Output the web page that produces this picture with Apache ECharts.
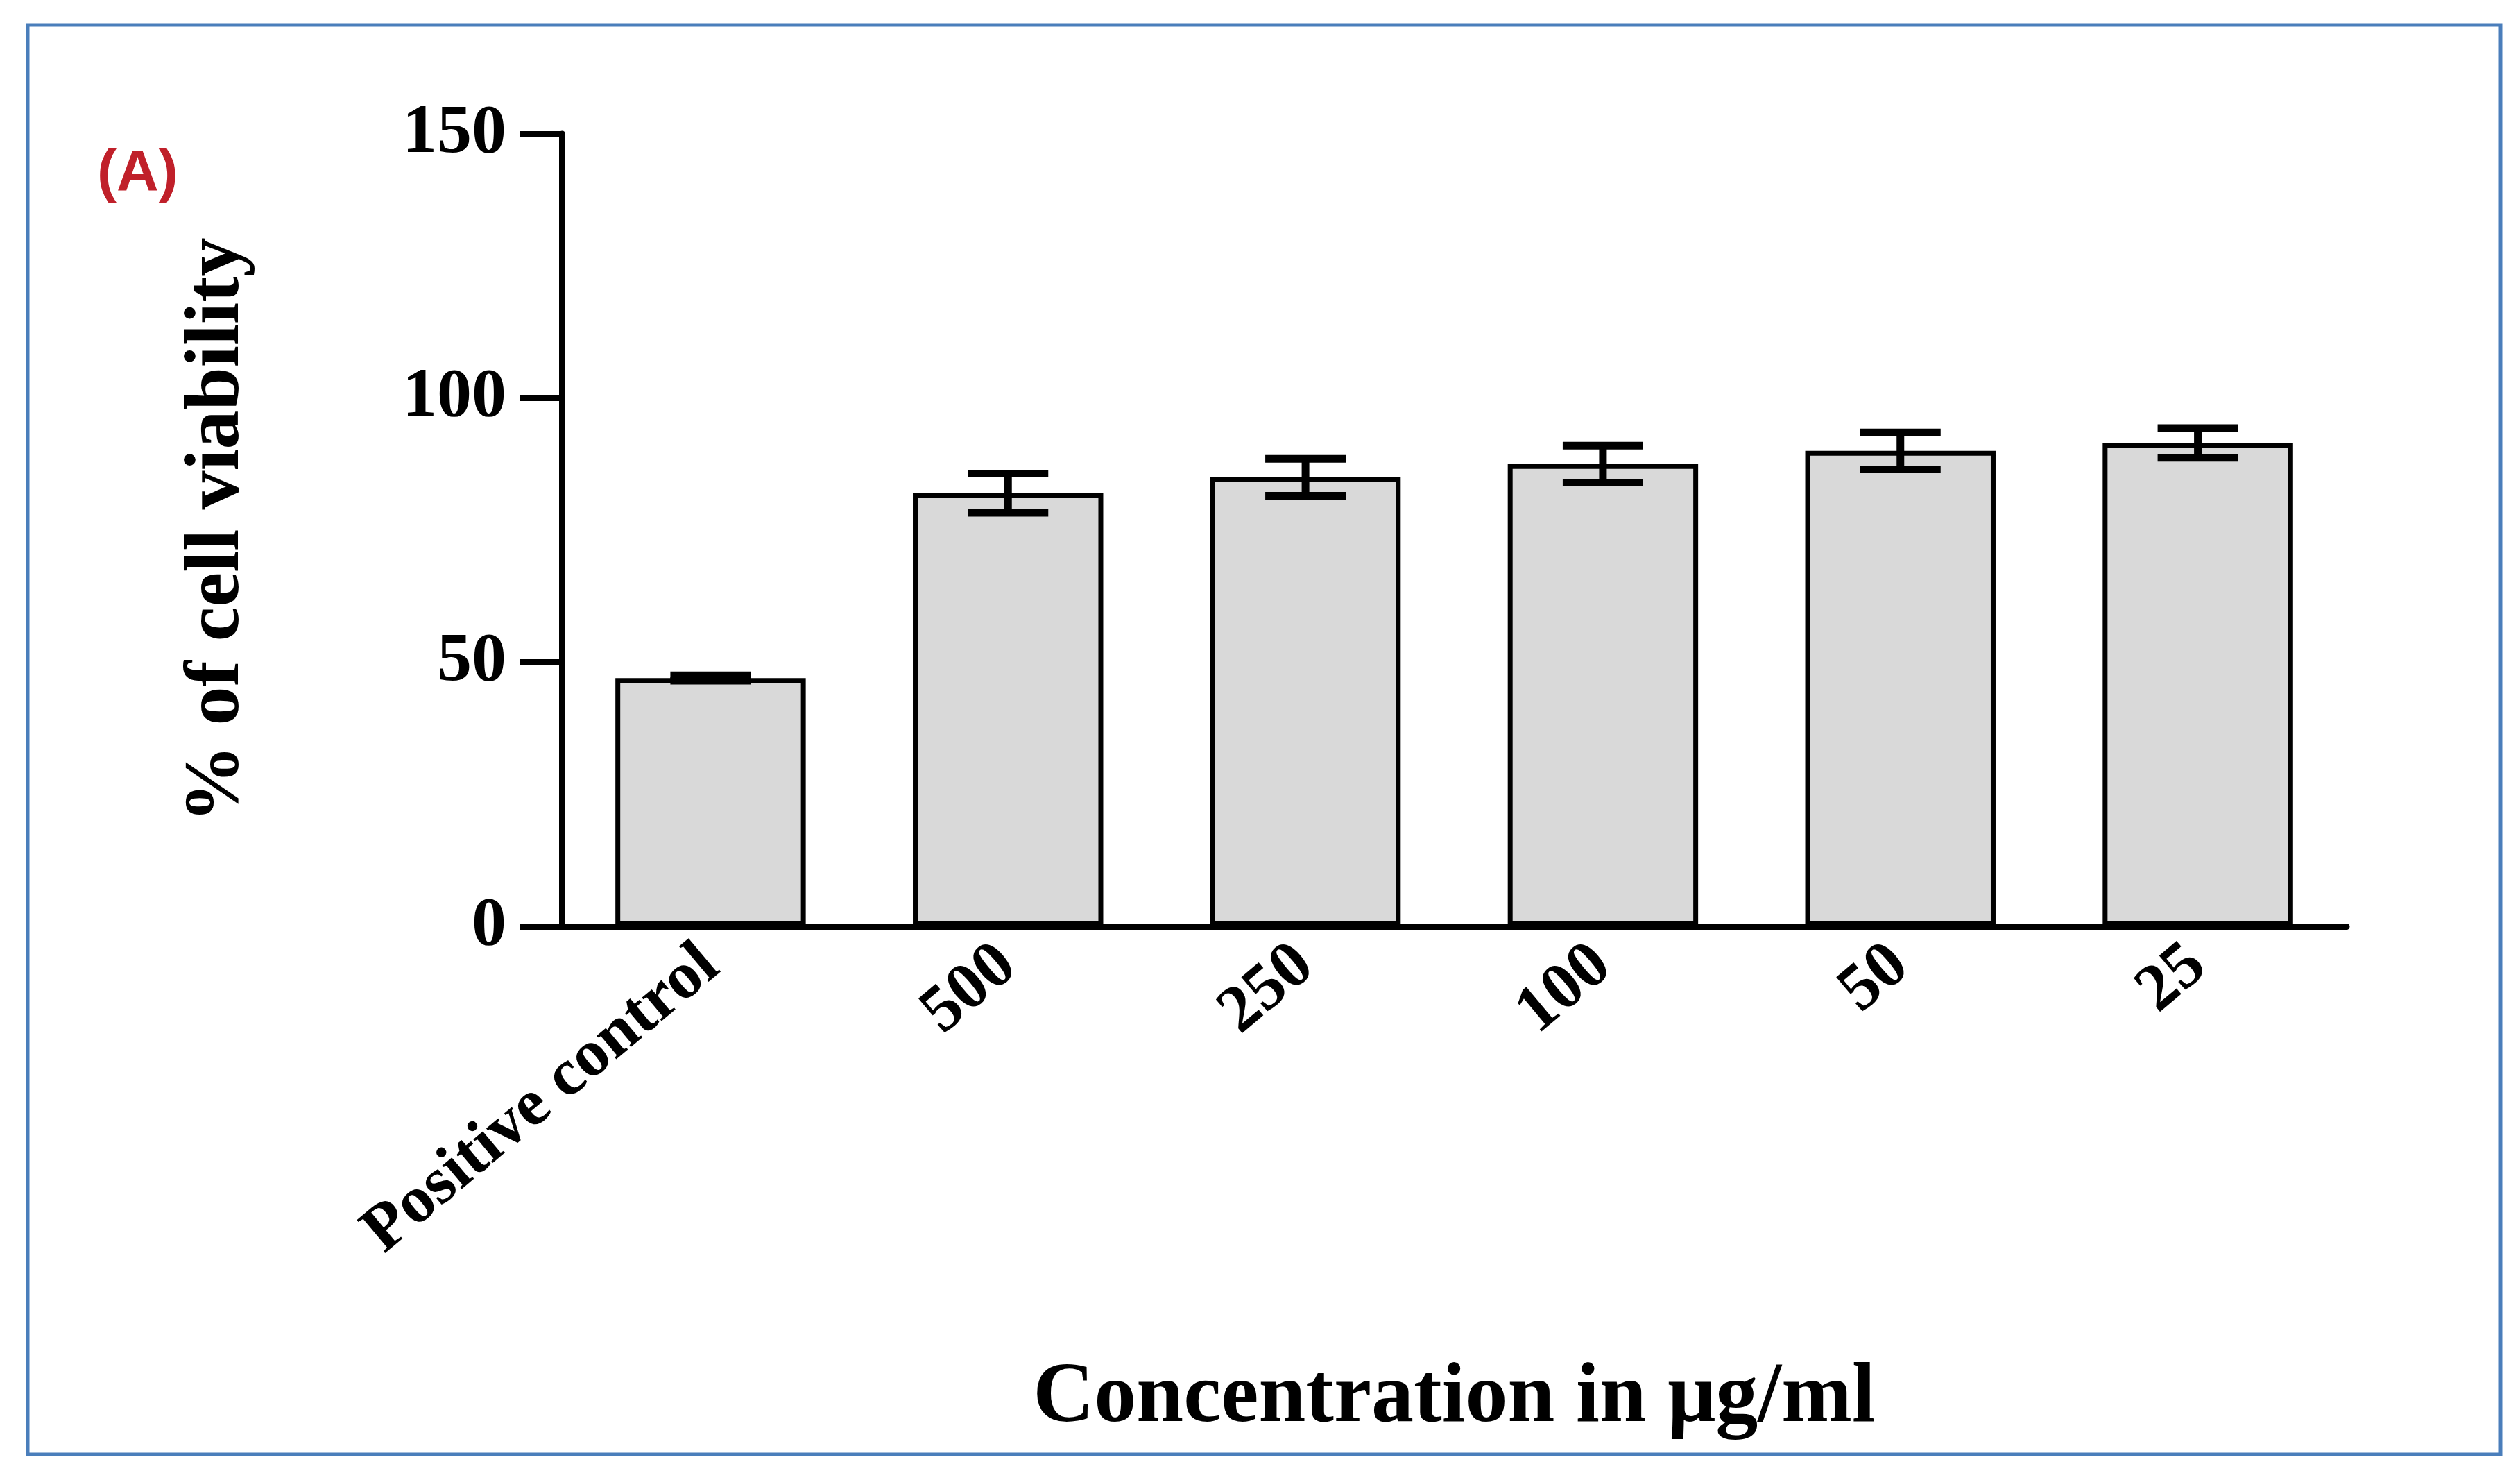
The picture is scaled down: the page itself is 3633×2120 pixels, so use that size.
<!DOCTYPE html>
<html><head><meta charset="utf-8">
<script src="https://cdn.jsdelivr.net/npm/echarts@6/dist/echarts.min.js"></script>
<style>html,body{margin:0;padding:0;background:#fff}#c{width:3633px;height:2120px}</style>
</head><body><div id="c"></div>
<script>
const categories = ["Positive control","500","250","100","50","25"];
const values = [47, 82, 85, 87.5, 90, 91.5];
const errors = [0.5, 3.7, 3.5, 3.5, 3.5, 2.8];
const yTicks = [0, 50, 100, 150];

const chart = echarts.init(document.getElementById('c'));
const serif = '"Liberation Serif", "DejaVu Serif", serif';
chart.setOption({
  animation: false,
  graphic: [
    {type:'rect', shape:{x:40,y:36,width:3565,height:2060}, style:{fill:'none', stroke:'#4a7ebb', lineWidth:5}},
    {type:'text', left:140, top:210, style:{text:'(A)', fill:'#c0202a', font:'bold 84px "Liberation Sans", Arial, sans-serif'}}
  ],
  grid: {left:810, right:250, top:193, bottom:785, containLabel:false},
  xAxis: {
    type:'category', data:categories, boundaryGap:true,
    axisLine:{lineStyle:{color:'#000', width:9}},
    axisTick:{alignWithLabel:true, length:35, lineStyle:{color:'#000', width:9}},
    axisLabel:{rotate:40, color:'#000', fontFamily:serif, fontWeight:'bold', fontSize:96, margin:45},
    name:'Concentration in μg/ml', nameLocation:'middle', nameGap:620,
    nameTextStyle:{color:'#000', fontFamily:serif, fontWeight:'bold', fontSize:122}
  },
  yAxis: {
    type:'value', min:0, max:150, interval:50,
    axisLine:{show:true, lineStyle:{color:'#000', width:9}},
    axisTick:{show:true, length:60, lineStyle:{color:'#000', width:9}},
    splitLine:{show:false},
    axisLabel:{color:'#000', fontFamily:serif, fontWeight:'bold', fontSize:100, margin:80,
      formatter: v => yTicks.includes(v) ? String(v) : ''},
    name:'% of cell viability', nameLocation:'middle', nameGap:440,
    nameTextStyle:{color:'#000', fontFamily:serif, fontWeight:'bold', fontSize:112}
  },
  series: [
    {type:'bar', data:values, barWidth:'64%',
     itemStyle:{color:'#d9d9d9', borderColor:'#000', borderWidth:7}},
    {type:'custom', data:values.map((v,i)=>[i, v-errors[i], v+errors[i]]), z:10,
     renderItem:(params, api)=>{
       const lo = api.coord([api.value(0), api.value(1)]);
       const hi = api.coord([api.value(0), api.value(2)]);
       const hw = 58;
       const st = {stroke:'#000', lineWidth:11};
       return {type:'group', children:[
         {type:'line', shape:{x1:lo[0], y1:lo[1], x2:hi[0], y2:hi[1]}, style:st},
         {type:'line', shape:{x1:lo[0]-hw, y1:lo[1], x2:lo[0]+hw, y2:lo[1]}, style:st},
         {type:'line', shape:{x1:hi[0]-hw, y1:hi[1], x2:hi[0]+hw, y2:hi[1]}, style:st}
       ]};
     }}
  ]
});
</script></body></html>
